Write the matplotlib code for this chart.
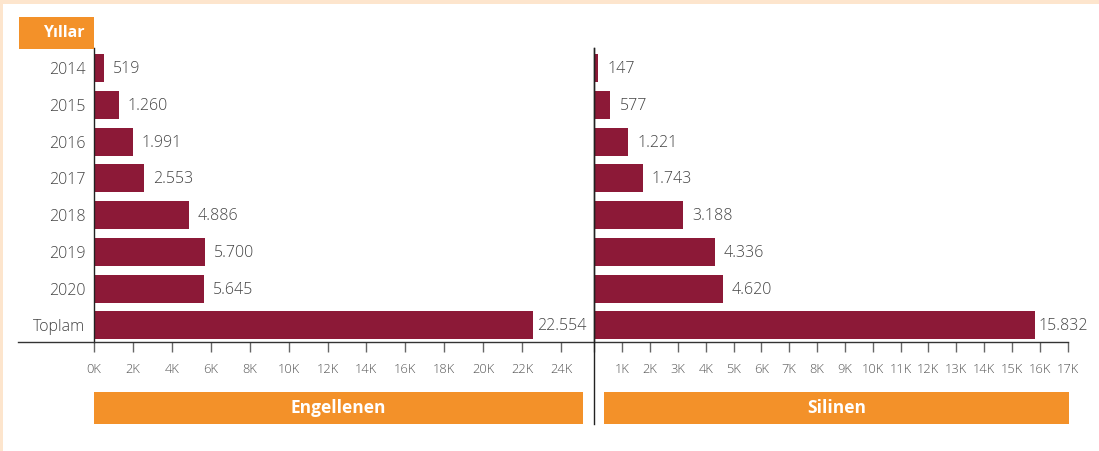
import matplotlib.pyplot as plt
from matplotlib.lines import Line2D
from matplotlib.patches import Rectangle

# data
years = ["2014", "2015", "2016", "2017", "2018", "2019", "2020", "Toplam"]
blocked = [519, 1260, 1991, 2553, 4886, 5700, 5645, 22554]
deleted = [147, 577, 1221, 1743, 3188, 4336, 4620, 15832]

left_ticks = list(range(0, 24001, 2000))
right_ticks = list(range(0, 17001, 1000))

BAR = "#8c1937"
ORANGE = "#f39129"
PEACH = "#fde5cd"
TXT = "#444444"

plt.rcParams["font.family"] = ["Open Sans", "DejaVu Sans"]

W, H = 1099, 451
fig = plt.figure(figsize=(W / 100, H / 100), dpi=100)
fig.patch.set_facecolor("white")


def px(x0, y0, x1, y1):
    # pixel box (top-left origin) -> figure fraction rect
    return [x0 / W, 1 - y1 / H, (x1 - x0) / W, (y1 - y0) / H]


def kfmt(v):
    return f"{v // 1000}K"


def dotted(v):
    return f"{v:,}".replace(",", ".")


ax1 = fig.add_axes(px(94, 48, 561, 342))
ax2 = fig.add_axes(px(594.4, 48, 1067.5, 342))

for ax, vals, ticks, xmax in [(ax1, blocked, left_ticks, 24000),
                              (ax2, deleted, right_ticks, 17000)]:
    pos = list(range(len(years)))
    ax.barh(pos, vals, height=0.76, color=BAR, zorder=2)
    ax.set_xlim(0, xmax)
    ax.set_ylim(7.45, -0.55)
    for sp in ["top", "right", "bottom"]:
        ax.spines[sp].set_visible(False)
    ax.spines["left"].set_color("#222222")
    ax.spines["left"].set_linewidth(1.0)
    ax.set_xticks(ticks)
    ax.tick_params(axis="x", direction="out", length=7, width=1, color="#666666",
                   pad=8, labelsize=9.3, labelcolor="#555555")
    ax.tick_params(axis="y", length=0, pad=6, labelsize=11.5, labelcolor=TXT)
    for lab in ax.get_xticklabels() + ax.get_yticklabels():
        lab.set_fontweight("light")
    for i, v in enumerate(vals):
        off = 4 if i == len(vals) - 1 else 9
        ax.annotate(dotted(v), xy=(v, i), xytext=(off, -1), textcoords="offset pixels",
                    ha="left", va="center", fontsize=11.5, color=TXT, fontweight="light")

ax1.set_xticklabels([kfmt(t) for t in left_ticks], fontweight="light")
ax1.set_yticks(range(len(years)))
ax1.set_yticklabels(years, fontweight="light")
ax2.set_xticklabels([""] + [kfmt(t) for t in right_ticks[1:]], fontweight="light")
ax2.set_yticks([])

# long horizontal baseline under both panels
fig.add_artist(Line2D([18 / W, 1067.5 / W], [1 - 342 / H] * 2, color="#333333", lw=1.0))
# right panel axis continues down past its title box
fig.add_artist(Line2D([594.4 / W] * 2, [1 - 48 / H, 1 - 424 / H], color="#222222", lw=1.0))

# orange header boxes
for (x0, y0, x1, y1), label in [((19, 17, 94, 49), "Yıllar"),
                                ((94, 392, 583, 424), "Engellenen"),
                                ((604, 392, 1069, 424), "Silinen")]:
    r = px(x0, y0, x1, y1)
    fig.add_artist(Rectangle((r[0], r[1]), r[2], r[3], transform=fig.transFigure,
                             color=ORANGE, lw=0))
    if label == "Yıllar":
        fig.text((x1 - 9) / W, 1 - (y0 + y1) / 2 / H, label, ha="right", va="center",
                 fontsize=11.5, fontweight="bold", color="white")
    else:
        fig.text((x0 + x1) / 2 / W, 1 - (y0 + y1) / 2 / H, label, ha="center", va="center",
                 fontsize=12.5, fontweight="bold", color="white")

# peach frame at top and left
fig.add_artist(Rectangle((0, 1 - 4 / H), 1, 4 / H, transform=fig.transFigure, color=PEACH, lw=0))
fig.add_artist(Rectangle((0, 0), 3 / W, 1, transform=fig.transFigure, color=PEACH, lw=0))

fig.savefig("out.png", dpi=100)
